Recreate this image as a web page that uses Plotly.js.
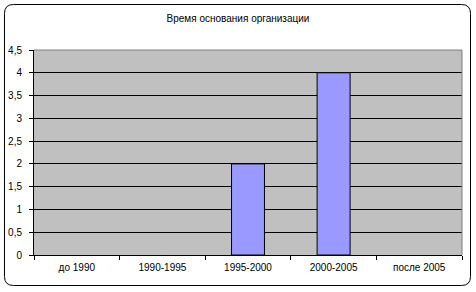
<!DOCTYPE html>
<html>
<head>
<meta charset="utf-8">
<script src="https://cdn.plot.ly/plotly-3.0.1.min.js"></script>
<style>
  html, body { margin: 0; padding: 0; background: #ffffff; }
  #chart { width: 476px; height: 292px; }
</style>
</head>
<body>
<div id="chart"></div>
<script>
// Founding period categories and number of organisations in each
const periods = ['до 1990', '1990-1995', '1995-2000', '2000-2005', 'после 2005'];
const counts = [0, 0, 2, 4, 0];
const yTicks = [0, 0.5, 1, 1.5, 2, 2.5, 3, 3.5, 4, 4.5];

const W = 476, H = 292;
const M = { l: 34, r: 14, t: 50, b: 37 };
const pw = W - M.l - M.r, ph = H - M.t - M.b;

// pixel -> paper helpers for the outer rounded frame
const px = p => (p - M.l) / pw;
const py = q => (H - M.b - q) / ph;

function roundedFrame(x0, y0, x1, y1, r) {
  const P = (x, y) => px(x).toFixed(5) + ',' + py(y).toFixed(5);
  return 'M' + P(x0 + r, y0) +
    ' L' + P(x1 - r, y0) + ' Q' + P(x1, y0) + ' ' + P(x1, y0 + r) +
    ' L' + P(x1, y1 - r) + ' Q' + P(x1, y1) + ' ' + P(x1 - r, y1) +
    ' L' + P(x0 + r, y1) + ' Q' + P(x0, y1) + ' ' + P(x0, y1 - r) +
    ' L' + P(x0, y0 + r) + ' Q' + P(x0, y0) + ' ' + P(x0 + r, y0) + ' Z';
}

const trace = {
  type: 'bar',
  x: periods,
  y: counts,
  marker: {
    color: '#9999FF',
    // empty categories get no outline so no flat stub is drawn on the axis
    line: { color: '#000000', width: counts.map(v => (v > 0 ? 1 : 0)) }
  },
  hoverinfo: 'x+y'
};

const layout = {
  width: W, height: H,
  margin: M,
  paper_bgcolor: '#ffffff',
  plot_bgcolor: '#C0C0C0',
  separators: ', ',
  bargap: 0.615,
  showlegend: false,
  font: { family: 'Arial, "Liberation Sans", sans-serif', size: 10, color: '#000000' },
  title: {
    text: 'Время основания организации',
    font: { size: 10, color: '#000000' },
    x: 0.5, xanchor: 'center',
    y: 1 - 18 / H, yanchor: 'middle'
  },
  xaxis: {
    type: 'category',
    showgrid: false,
    showline: true, linecolor: '#000000', linewidth: 1,
    ticks: 'outside', ticklen: 4, tickcolor: '#000000',
    tickson: 'boundaries',
    ticklabelstandoff: 3,
    tickfont: { size: 10 },
    fixedrange: true
  },
  yaxis: {
    range: [0, 4.5],
    tickvals: yTicks,
    showgrid: true, gridcolor: '#000000', gridwidth: 1,
    zeroline: false,
    showline: true, linecolor: '#000000', linewidth: 1,
    ticks: 'outside', ticklen: 4, tickcolor: '#000000',
    ticklabelstandoff: 5,
    tickfont: { size: 10 },
    fixedrange: true
  },
  shapes: [
    // grey top and right edges of the plot area
    { type: 'line', xref: 'paper', yref: 'paper', x0: 0, x1: 1, y0: 1, y1: 1,
      line: { color: '#808080', width: 1 } },
    { type: 'line', xref: 'paper', yref: 'paper', x0: 1, x1: 1, y0: 0, y1: 1,
      line: { color: '#808080', width: 1 } },
    // rounded chart border
    { type: 'path', xref: 'paper', yref: 'paper', layer: 'above',
      path: roundedFrame(4.5, 4.5, 470.5, 285.5, 9),
      line: { color: '#000000', width: 1 } }
  ]
};

Plotly.newPlot('chart', [trace], layout, { displayModeBar: false, staticPlot: true });
</script>
</body>
</html>
